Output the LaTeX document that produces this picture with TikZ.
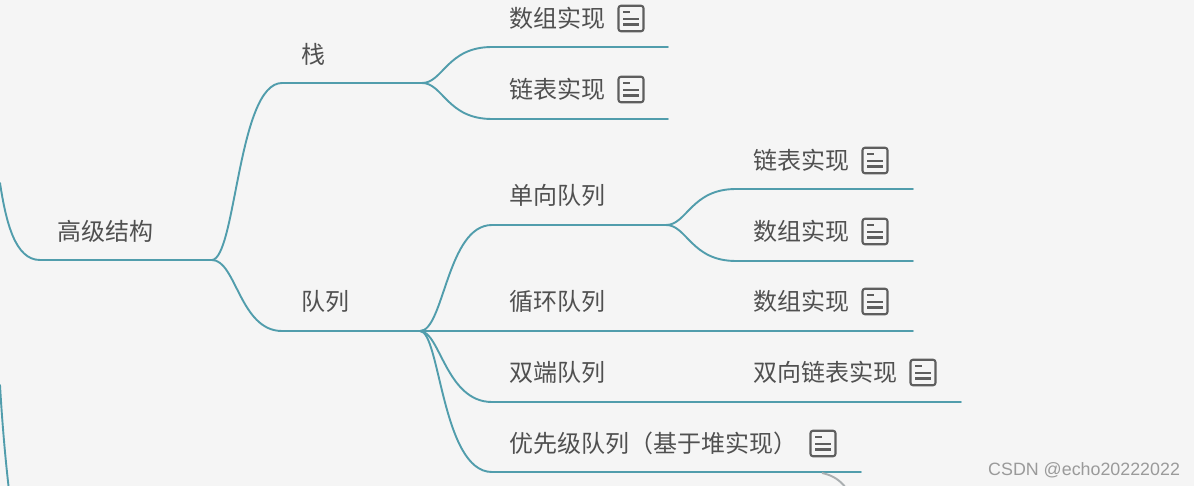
\documentclass[tikz,border=0pt]{standalone}
\usepackage{fontspec}
\setmainfont{Noto Sans CJK SC}
\newfontfamily\wmfont{Liberation Sans}
\definecolor{bgc}{HTML}{F5F5F5}
\definecolor{linkc}{HTML}{519DAC}
\definecolor{txtc}{HTML}{505050}
\definecolor{iconc}{HTML}{5E5E5E}
\definecolor{wmc}{HTML}{9A9A9A}
\definecolor{grayc}{HTML}{A9AEB0}
\tikzset{
  lbl/.style={anchor=west,inner sep=0pt,text=txtc,font=\fontsize{24}{25}\selectfont},
  noteicon/.style={draw=iconc,line width=2.1pt,rounded corners=2.5pt,minimum width=25pt,minimum height=25.5pt,inner sep=0pt,
    path picture={
      \draw[iconc,line width=2.1pt]
        ([xshift=-8pt,yshift=6.3pt]path picture bounding box.center) -- ++(7pt,0pt)
        ([xshift=-8pt,yshift=-0.5pt]path picture bounding box.center) -- ++(16pt,0pt)
        ([xshift=-8pt,yshift=-6pt]path picture bounding box.center) -- ++(16pt,0pt);}},
  link/.style={draw=linkc,line width=1.9pt,line cap=round},
  overlap/.style={draw=linkc,line width=2.4pt,line cap=round},
}
\begin{document}
\begin{tikzpicture}[x=1pt,y=-1pt]
\useasboundingbox[fill=bgc] (0,0) rectangle (1194,486);
\clip (0,0) rectangle (1194,486);
% junction and end coordinates
\coordinate (rootL) at (40,260);
\coordinate (rootS) at (171,260);
\coordinate (rootJ) at (212,260);
\coordinate (stkL) at (282,83);
\coordinate (stkS) at (380,83);
\coordinate (stkJ) at (422,83);
\coordinate (queL) at (282,331);
\coordinate (queS) at (380,331);
\coordinate (queJ) at (420,331);
\coordinate (s1L) at (492,47);  \coordinate (s1R) at (668,47);
\coordinate (s2L) at (492,119); \coordinate (s2R) at (668,119);
\coordinate (q1L) at (492,225); \coordinate (q1S) at (624,225); \coordinate (q1J) at (666,225);
\coordinate (q2R) at (913,331);
\coordinate (q3L) at (492,402); \coordinate (q3R) at (961,402);
\coordinate (q4L) at (492,472); \coordinate (q4R) at (861,472);
\coordinate (a1L) at (736,189); \coordinate (a1R) at (913,189);
\coordinate (a2L) at (736,261); \coordinate (a2R) at (913,261);
\coordinate (offA) at (0,183);
\coordinate (offB) at (0,385);
\coordinate (offBe) at (8.5,486);
\coordinate (grayA) at (822,473);
\coordinate (grayB) at (846,488);
% connectors
\draw[link] (offA) .. controls (6,222) and (15,260) .. (rootL) -- (rootJ);
\draw[overlap] (rootS) -- (rootJ);
\draw[link] (rootJ) .. controls (236,258) and (238,83) .. (stkL) -- (stkJ);
\draw[link] (rootJ) .. controls (236,260) and (240,331) .. (queL) -- (queJ);
\draw[overlap] (stkS) -- (stkJ);
\draw[overlap] (queS) -- (queJ);
\draw[link] (stkJ) .. controls (443,83) and (447,47) .. (s1L) -- (s1R);
\draw[link] (stkJ) .. controls (443,83) and (447,119) .. (s2L) -- (s2R);
\draw[link] (queJ) .. controls (444,331) and (447,225) .. (q1L) -- (q1J);
\draw[link] (queJ) -- (q2R);
\draw[link] (queJ) .. controls (440,331) and (446,402) .. (q3L) -- (q3R);
\draw[link] (queJ) .. controls (440,331) and (442,472) .. (q4L) -- (q4R);
\draw[overlap] (q1S) -- (q1J);
\draw[link] (q1J) .. controls (687,225) and (691,189) .. (a1L) -- (a1R);
\draw[link] (q1J) .. controls (687,225) and (691,261) .. (a2L) -- (a2R);
\draw[link] (offB) .. controls (2,420) and (5,455) .. (offBe);
\draw[grayc,line width=1.9pt] (grayA) .. controls (832,475) and (840,480) .. (grayB);
% labels
\node[lbl] (root) at (57.5,231) {高级结构};
\node[lbl] (stk) at (301.5,54) {栈};
\node[lbl] (que) at (301.5,301) {队列};
\node[lbl] (s1) at (509.5,18) {数组实现};
\node[lbl] (s2) at (509.5,89) {链表实现};
\node[lbl] (q1) at (509.5,195) {单向队列};
\node[lbl] (q2) at (509.5,301) {循环队列};
\node[lbl] (q3) at (509.5,372) {双端队列};
\node[lbl] (q4) at (509.5,443) {优先级队列（基于堆实现）};
\node[lbl] (a1) at (753.5,160) {链表实现};
\node[lbl] (a2) at (753.5,231) {数组实现};
\node[lbl] (a3) at (753.5,301) {数组实现};
\node[lbl] (a4) at (753.5,372) {双向链表实现};
% note icons
\node[noteicon] (i1) at (631,18.5) {};
\node[noteicon] (i2) at (631,89.5) {};
\node[noteicon] (i3) at (875,160.5) {};
\node[noteicon] (i4) at (875,231.5) {};
\node[noteicon] (i5) at (875,301.5) {};
\node[noteicon] (i6) at (923,372.5) {};
\node[noteicon] (i7) at (823,443.5) {};
% watermark
\node[anchor=west,inner sep=0pt,text=wmc,font=\wmfont\fontsize{17.85}{19}\selectfont] (wm) at (988,470) {CSDN @echo20222022};
\end{tikzpicture}
\end{document}
